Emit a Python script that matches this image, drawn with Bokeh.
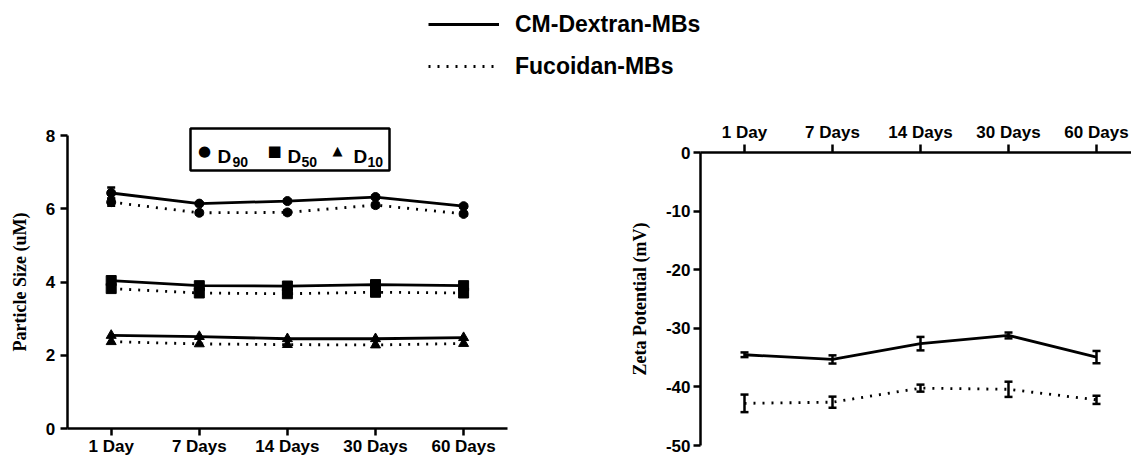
from bokeh.plotting import figure
from bokeh.models import (Range1d, FixedTicker, ColumnDataSource, Whisker, TeeHead,
                          BoxAnnotation, Label, Legend, LegendItem, LinearAxis)
from bokeh.embed import file_html
from bokeh.resources import INLINE

# ---------------- data ----------------
days = ["1 Day", "7 Days", "14 Days", "30 Days", "60 Days"]
day_idx = list(range(len(days)))

size_ticks = [0, 2, 4, 6, 8]
zeta_ticks = [0, -10, -20, -30, -40, -50]
zeta_tick_labels = ["0", "-10", "-20", "-30", "-40", "-50"]

series_names = ["CM-Dextran-MBs", "Fucoidan-MBs"]

cm_d90 = [6.43, 6.14, 6.21, 6.32, 6.07]
cm_d90_err = [0.15, 0.04, 0.04, 0.05, 0.04]
fu_d90 = [6.18, 5.89, 5.90, 6.10, 5.86]
fu_d90_err = [0.10, 0.05, 0.06, 0.06, 0.05]
cm_d50 = [4.04, 3.90, 3.89, 3.93, 3.90]
fu_d50 = [3.82, 3.70, 3.68, 3.72, 3.70]
cm_d10 = [2.54, 2.51, 2.45, 2.45, 2.48]
fu_d10 = [2.37, 2.31, 2.29, 2.28, 2.32]

cm_zeta = [-34.5, -35.3, -32.6, -31.2, -34.9]
cm_zeta_err = [0.4, 0.7, 1.15, 0.5, 1.05]
fu_zeta = [-42.8, -42.6, -40.2, -40.4, -42.2]
fu_zeta_err = [1.5, 0.95, 0.6, 1.3, 0.7]

# ---------------- layout / styles ----------------
W, H = 1131, 458
BLACK = "#000000"
SANS = "Liberation Sans"
SERIF = "Liberation Serif"
LW = 2.8
DOT = "2 7"

# pixel anchors of the two panels (canvas pixels, y downward)
L_X0, L_DX = 110.7, 88.1      # left panel: first category px, px per category
L_Y0, L_DY = 428.0, 36.625    # left panel: px of value 0, px per unit
R_X0, R_DX = 744.0, 88.0      # right panel
R_Y0, R_DY = 152.3, 5.854     # right panel: px of value 0, px per mV

x_left = Range1d((0 - L_X0) / L_DX, (W - L_X0) / L_DX)
y_left = Range1d((L_Y0 - H) / L_DY, (L_Y0 - 0) / L_DY)
x_right = Range1d((0 - R_X0) / R_DX, (W - R_X0) / R_DX)
y_right = Range1d((R_Y0 - H) / R_DY, (R_Y0 - 0) / R_DY)


def lx(px):
    return (px - L_X0) / L_DX


def ly(py):
    return (L_Y0 - py) / L_DY


p = figure(width=W, height=H, x_range=x_left, y_range=y_left,
           x_axis_location=None, y_axis_location=None, min_border=0,
           output_backend="svg", toolbar_location=None)
p.extra_x_ranges = {"zx": x_right}
p.extra_y_ranges = {"zy": y_right}
p.grid.visible = False
p.outline_line_color = None
p.background_fill_color = "white"
p.border_fill_color = "white"


def style_axis(ax):
    ax.axis_line_color = BLACK
    ax.axis_line_width = 2.5
    ax.major_tick_line_color = BLACK
    ax.major_tick_line_width = 2.5
    ax.minor_tick_line_color = None
    ax.major_tick_in = 0
    ax.major_label_text_font = SANS
    ax.major_label_text_font_style = "bold"
    ax.major_label_text_font_size = "17px"
    ax.major_label_text_color = BLACK
    ax.axis_label_text_font = SERIF
    ax.axis_label_text_font_style = "bold"
    ax.axis_label_text_font_size = "18px"
    ax.axis_label_text_color = BLACK
    return ax


day_labels = {i: d for i, d in zip(day_idx, days)}

# left panel axes
ax_lx = style_axis(LinearAxis(fixed_location=0, bounds=(-0.5, 4.5),
                              ticker=FixedTicker(ticks=day_idx),
                              major_label_overrides=day_labels))
ax_lx.major_tick_out = 7
ax_lx.major_label_standoff = 1
p.add_layout(ax_lx, "below")

ax_ly = style_axis(LinearAxis(fixed_location=-0.5, bounds=(size_ticks[0], size_ticks[-1]),
                              ticker=FixedTicker(ticks=size_ticks),
                              axis_label="Particle Size (uM)"))
ax_ly.major_tick_out = 7
ax_ly.major_label_standoff = 5
ax_ly.axis_label_standoff = 13
p.add_layout(ax_ly, "left")

# right panel axes
ax_rx = style_axis(LinearAxis(x_range_name="zx", y_range_name="zy", fixed_location=0,
                              bounds=(-0.5, 4.5), ticker=FixedTicker(ticks=day_idx),
                              major_label_overrides=day_labels))
ax_rx.major_tick_out = 8
ax_rx.major_label_standoff = 3
p.add_layout(ax_rx, "above")

ax_ry = style_axis(LinearAxis(x_range_name="zx", y_range_name="zy", fixed_location=-0.5,
                              bounds=(zeta_ticks[-1], zeta_ticks[0]),
                              ticker=FixedTicker(ticks=zeta_ticks),
                              major_label_overrides={t: s for t, s in zip(zeta_ticks, zeta_tick_labels)},
                              axis_label="Zeta Potential (mV)"))
ax_ry.major_tick_out = 7
ax_ry.major_label_standoff = 3
ax_ry.axis_label_standoff = 13
p.add_layout(ax_ry, "left")

# ---------------- left: particle size ----------------
src_size = ColumnDataSource(dict(
    x=day_idx, cm_d90=cm_d90, fu_d90=fu_d90, cm_d50=cm_d50, fu_d50=fu_d50,
    cm_d10=cm_d10, fu_d10=fu_d10,
    cm_d90_lo=[v - e for v, e in zip(cm_d90, cm_d90_err)],
    cm_d90_hi=[v + e for v, e in zip(cm_d90, cm_d90_err)],
    fu_d90_lo=[v - e for v, e in zip(fu_d90, fu_d90_err)],
    fu_d90_hi=[v + e for v, e in zip(fu_d90, fu_d90_err)],
))

for lo, hi in (("cm_d90_lo", "cm_d90_hi"), ("fu_d90_lo", "fu_d90_hi")):
    p.add_layout(Whisker(source=src_size, base="x", lower=lo, upper=hi,
                         line_color=BLACK, line_width=2.5,
                         upper_head=TeeHead(size=8, line_width=2.5, line_color=BLACK),
                         lower_head=TeeHead(size=8, line_width=2.5, line_color=BLACK)))

markers = {"d90": ("circle", 9), "d50": ("square", 10), "d10": ("triangle", 10)}
for key, (mk, sz) in markers.items():
    p.line("x", "cm_" + key, source=src_size, line_color=BLACK, line_width=LW)
    p.line("x", "fu_" + key, source=src_size, line_color=BLACK, line_width=LW, line_dash=DOT)
    p.scatter("x", "cm_" + key, source=src_size, marker=mk, size=sz,
              fill_color=BLACK, line_color=BLACK)
    p.scatter("x", "fu_" + key, source=src_size, marker=mk, size=sz,
              fill_color=BLACK, line_color=BLACK)

# inner legend box of the left panel
p.add_layout(BoxAnnotation(left=lx(190), right=lx(389), top=ly(128), bottom=ly(170),
                           fill_color="white", fill_alpha=1.0,
                           line_color=BLACK, line_width=2.5, line_alpha=1.0))
leg_entries = [("\u25CF", 204, 15, "D", 217, "90", 232),
               ("\u25A0", 274, 15, "D", 287, "50", 301),
               ("\u25B2", 337, 13, "D", 353, "10", 367)]
for sym, sx, ssz, main, mx, sub, bx in leg_entries:
    p.add_layout(Label(x=lx(sx), y=ly(150), text=sym, text_align="center",
                       text_baseline="middle", text_font="DejaVu Sans",
                       text_font_size=f"{ssz}px", text_color=BLACK))
    p.add_layout(Label(x=lx(mx), y=ly(156), text=main, text_align="left",
                       text_baseline="alphabetic", text_font=SANS,
                       text_font_style="bold", text_font_size="19px", text_color=BLACK))
    p.add_layout(Label(x=lx(bx), y=ly(161), text=sub, text_align="left",
                       text_baseline="alphabetic", text_font=SANS,
                       text_font_style="bold", text_font_size="14px", text_color=BLACK))

# ---------------- right: zeta potential ----------------
src_zeta = ColumnDataSource(dict(
    x=day_idx, cm=cm_zeta, fu=fu_zeta,
    cm_lo=[v - e for v, e in zip(cm_zeta, cm_zeta_err)],
    cm_hi=[v + e for v, e in zip(cm_zeta, cm_zeta_err)],
    fu_lo=[v - e for v, e in zip(fu_zeta, fu_zeta_err)],
    fu_hi=[v + e for v, e in zip(fu_zeta, fu_zeta_err)],
))
r_cm = p.line("x", "cm", source=src_zeta, line_color=BLACK, line_width=LW,
              x_range_name="zx", y_range_name="zy")
r_fu = p.line("x", "fu", source=src_zeta, line_color=BLACK, line_width=LW, line_dash=DOT,
              x_range_name="zx", y_range_name="zy")
for lo, hi in (("cm_lo", "cm_hi"), ("fu_lo", "fu_hi")):
    p.add_layout(Whisker(source=src_zeta, base="x", lower=lo, upper=hi,
                         x_range_name="zx", y_range_name="zy",
                         line_color=BLACK, line_width=2.5,
                         upper_head=TeeHead(size=8, line_width=2.5, line_color=BLACK),
                         lower_head=TeeHead(size=8, line_width=2.5, line_color=BLACK)))

# ---------------- top legend ----------------
top_legend = Legend(
    items=[LegendItem(label=series_names[0], renderers=[r_cm]),
           LegendItem(label=series_names[1], renderers=[r_fu])],
    location=(428, H - 9 - 72), orientation="vertical",
    glyph_width=71, glyph_height=30, label_height=30, label_width=10,
    label_standoff=16, spacing=12, padding=0, margin=0,
    border_line_color=None, background_fill_alpha=0,
    label_text_font=SANS, label_text_font_style="bold",
    label_text_font_size="23px", label_text_color=BLACK,
    label_text_baseline="middle",
)
p.add_layout(top_legend, "center")

open("out.html", "w").write(file_html(p, INLINE))
